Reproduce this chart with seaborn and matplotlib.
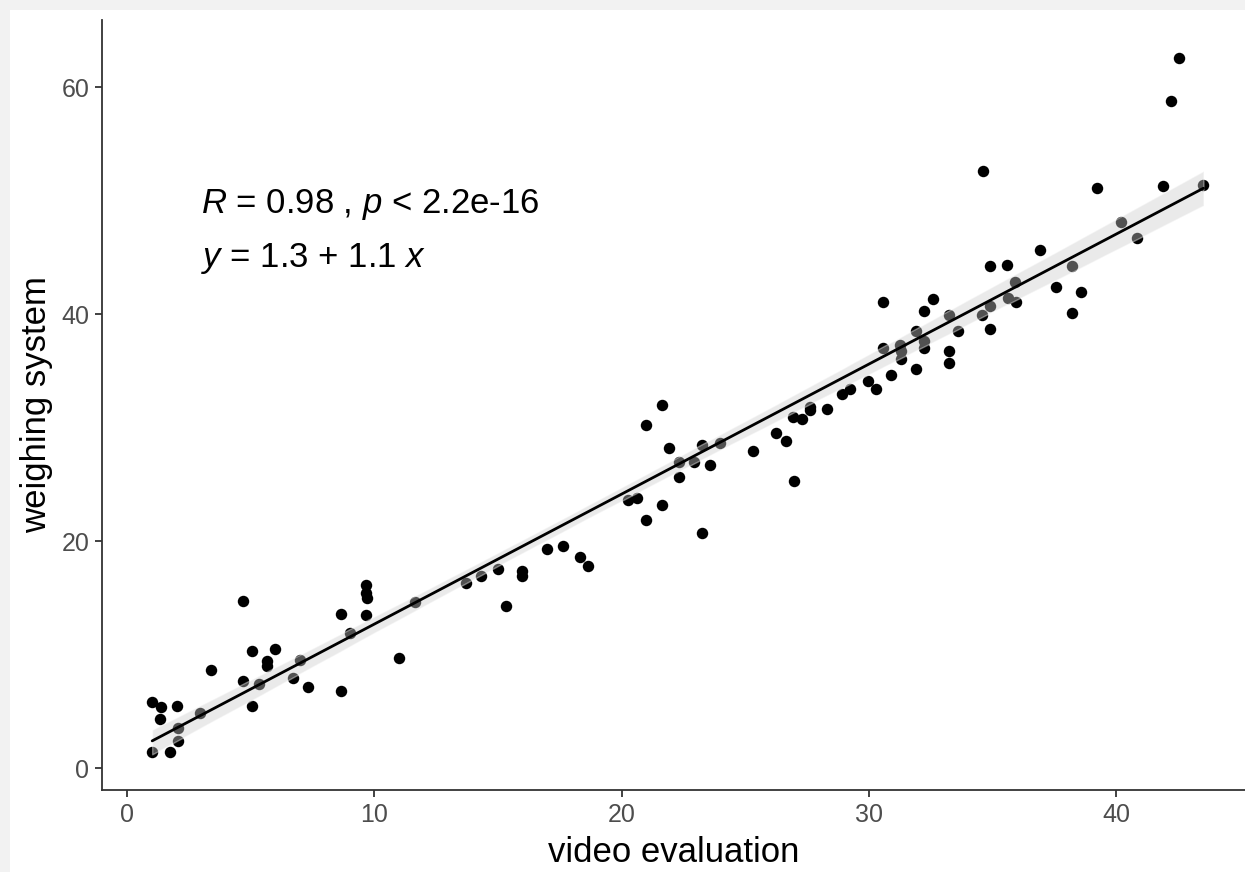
import numpy as np
import pandas as pd
import matplotlib
matplotlib.use("Agg")
import matplotlib.pyplot as plt
import seaborn as sns
from matplotlib.patches import Rectangle

# values
video_eval = [1.02, 1.36, 1.33, 2.04, 1.02, 1.73, 2.05, 2.05, 2.95, 3.38,
              4.70, 4.70, 5.04, 5.04, 5.35, 5.65, 5.67, 5.98, 6.70, 7.00,
              7.31, 8.65, 8.65, 9.02, 9.65, 9.65, 9.69, 9.65, 11.00, 11.65,
              13.70, 14.30, 15.00, 15.33, 15.96, 15.96, 16.97, 17.62, 18.32, 18.63,
              20.27, 20.64, 20.97, 20.97, 21.62, 21.62, 21.93, 22.33, 22.33, 22.94,
              23.26, 23.26, 23.57, 23.98, 25.30, 26.24, 26.64, 26.97, 26.94, 27.30,
              27.60, 27.60, 28.29, 28.90, 29.24, 29.94, 30.27, 30.58, 30.58, 30.89,
              31.26, 31.29, 31.29, 31.89, 31.89, 32.23, 32.23, 32.23, 32.60, 33.24,
              33.24, 33.24, 33.58, 34.56, 34.90, 34.90, 35.61, 35.94, 35.90, 37.56,
              38.58, 38.20, 42.54, 42.20, 34.59, 39.20, 41.90, 43.52, 40.20, 40.85,
              36.90, 34.90, 35.57, 38.20]
weighing = [5.84, 5.35, 4.29, 5.46, 1.38, 1.38, 2.35, 3.50, 4.87, 8.63,
            14.70, 7.66, 10.30, 5.46, 7.37, 9.45, 8.99, 10.50, 7.93, 9.50,
            7.10, 13.60, 6.78, 11.90, 16.10, 15.40, 14.95, 13.50, 9.72, 14.60,
            16.30, 16.90, 17.50, 14.30, 17.40, 16.90, 19.30, 19.60, 18.60, 17.80,
            23.60, 23.75, 30.20, 21.85, 32.00, 23.20, 28.20, 27.00, 25.60, 27.00,
            28.50, 20.70, 26.70, 28.60, 27.90, 29.50, 28.80, 25.30, 30.95, 30.75,
            31.80, 31.50, 31.60, 32.95, 33.40, 34.10, 33.40, 41.10, 37.00, 34.60,
            37.30, 36.70, 36.00, 38.50, 35.15, 40.30, 37.60, 36.97, 41.30, 39.90,
            36.70, 35.70, 38.50, 39.90, 40.70, 38.65, 41.40, 41.10, 42.80, 42.40,
            41.97, 40.10, 62.60, 58.80, 52.60, 51.10, 51.30, 51.40, 48.10, 46.70,
            45.60, 44.20, 44.30, 44.20]

x_ticks = [0, 10, 20, 30, 40]
y_ticks = [0, 20, 40, 60]
label_cor = r"$R$ = 0.98 , $p$ < 2.2e-16"
label_eq = r"$y$ = 1.3 + 1.1 $x$"

df = pd.DataFrame({"video evaluation": video_eval, "weighing system": weighing})

sns.set_theme(style="ticks")
plt.rcParams["font.family"] = ["Liberation Sans", "DejaVu Sans"]
plt.rcParams["mathtext.fontset"] = "custom"
plt.rcParams["mathtext.rm"] = "Liberation Sans"
plt.rcParams["mathtext.it"] = "Liberation Sans:italic"
plt.rcParams["text.color"] = "black"

fig = plt.figure(figsize=(12.45, 8.72), dpi=100, facecolor="#f2f2f2")
# white panel inside the light grey frame
fig.patches.append(Rectangle((10 / 1245, 0), 1, 1 - 10 / 872, transform=fig.transFigure,
                             facecolor="white", edgecolor="none", zorder=-10))
ax = fig.add_axes([0.0819, 0.094, 0.9181, 0.883])
ax.set_facecolor("white")
ax.set_zorder(1)

sns.regplot(data=df, x="video evaluation", y="weighing system", ax=ax, seed=0,
            scatter_kws={"s": 68, "color": "black", "linewidths": 0, "alpha": 1},
            line_kws={"color": "black", "linewidth": 2})

# grey confidence ribbon like ggplot's geom_smooth
band = ax.collections[-1]
band.set_facecolor((0.8, 0.8, 0.8))
band.set_alpha(0.4)

ax.set_xlim(-1.01, 45.2)
ax.set_ylim(-1.94, 65.9)
ax.set_xticks(x_ticks)
ax.set_yticks(y_ticks)

sns.despine(ax=ax)
for side in ["left", "bottom"]:
    ax.spines[side].set_color("#333333")
    ax.spines[side].set_linewidth(1.3)
ax.tick_params(length=5, width=1.3, color="#333333", labelsize=18,
               labelcolor="#4d4d4d", pad=4)

ax.set_xlabel("video evaluation", fontsize=25, color="black", labelpad=7)
ax.set_ylabel("weighing system", fontsize=25, color="black", labelpad=6)

ax.text(3, 48.9, label_cor, fontsize=25, va="baseline", ha="left")
ax.text(3, 44.1, label_eq, fontsize=25, va="baseline", ha="left")

fig.savefig("out.png", dpi=100, facecolor=fig.get_facecolor())
